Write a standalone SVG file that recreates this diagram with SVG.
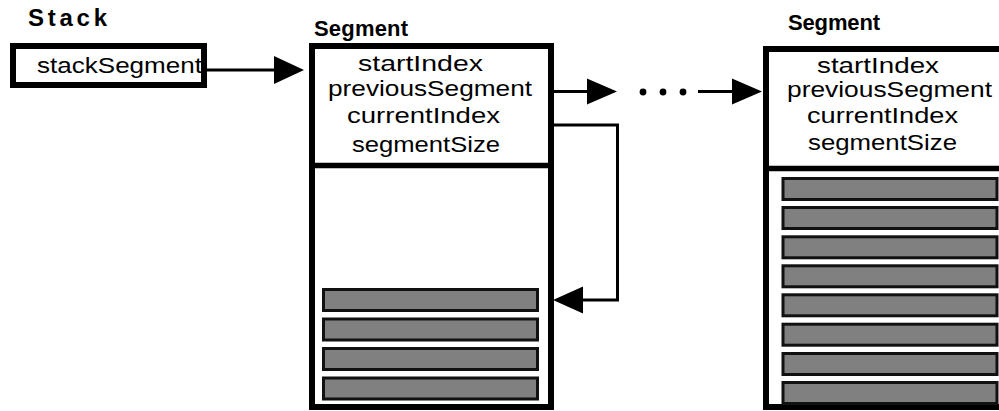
<svg xmlns="http://www.w3.org/2000/svg" width="999" height="411" viewBox="0 0 999 411">
  <style>
    .box { fill: #ffffff; stroke: #000000; stroke-width: 6; }
    .div { stroke: #000000; stroke-width: 5.5; }
    .bar { fill: #808080; stroke: #111111; stroke-width: 3; }
    .title { font-family: "Liberation Sans", Arial, sans-serif; font-weight: bold; font-size: 22px; fill: #000000; }
    .field { font-family: "Liberation Sans", Arial, sans-serif; font-size: 22.5px; fill: #000000; }
    .wire { fill: none; stroke: #000000; stroke-width: 3; }
    .head { fill: #000000; stroke: none; }
  </style>
  <defs>
    <!-- one storage slot of a segment -->
    <rect id="slot" class="bar" width="214" height="21"/>
  </defs>

  <rect width="999" height="411" fill="#ffffff"/>

  <!-- Stack object -->
  <g id="stack">
    <text class="title" x="28" y="26" style="font-size:24px" textLength="79" lengthAdjust="spacing">Stack</text>
    <rect class="box" x="13" y="46" width="191" height="39"/>
    <text class="field" x="37" y="73" textLength="165" lengthAdjust="spacingAndGlyphs">stackSegment</text>
  </g>

  <!-- First segment: header fields, then mostly empty storage -->
  <g id="segment1">
    <text class="title" x="314" y="36" textLength="94" lengthAdjust="spacing">Segment</text>
    <rect class="box" x="312" y="46" width="239" height="361"/>
    <line class="div" x1="309" y1="165.5" x2="554" y2="165.5"/>
    <text class="field" x="358" y="71" textLength="125" lengthAdjust="spacingAndGlyphs">startIndex</text>
    <text class="field" x="328" y="96" textLength="204" lengthAdjust="spacingAndGlyphs">previousSegment</text>
    <text class="field" x="347" y="123" textLength="153" lengthAdjust="spacingAndGlyphs">currentIndex</text>
    <text class="field" x="352" y="152" textLength="148" lengthAdjust="spacingAndGlyphs">segmentSize</text>
    <use href="#slot" x="323.5" y="289.5"/>
    <use href="#slot" x="323.5" y="319"/>
    <use href="#slot" x="323.5" y="348.5"/>
    <use href="#slot" x="323.5" y="378"/>
  </g>

  <!-- Last segment: header fields, storage full -->
  <g id="segment2">
    <text class="title" x="788" y="30" textLength="92" lengthAdjust="spacing">Segment</text>
    <rect class="box" x="766" y="49" width="260" height="358"/>
    <line class="div" x1="763" y1="168.5" x2="999" y2="168.5"/>
    <text class="field" x="817" y="73" textLength="122" lengthAdjust="spacingAndGlyphs">startIndex</text>
    <text class="field" x="787" y="97" textLength="205" lengthAdjust="spacingAndGlyphs">previousSegment</text>
    <text class="field" x="807" y="123" textLength="151" lengthAdjust="spacingAndGlyphs">currentIndex</text>
    <text class="field" x="808" y="150" textLength="149" lengthAdjust="spacingAndGlyphs">segmentSize</text>
    <use href="#slot" x="783" y="178.5"/>
    <use href="#slot" x="783" y="207.5"/>
    <use href="#slot" x="783" y="236.8"/>
    <use href="#slot" x="783" y="265.8"/>
    <use href="#slot" x="783" y="294.8"/>
    <use href="#slot" x="783" y="324.2"/>
    <use href="#slot" x="783" y="353.5"/>
    <use href="#slot" x="783" y="382.5"/>
  </g>

  <!-- Connectors -->
  <g id="connectors">
    <!-- stackSegment -> first segment -->
    <line class="wire" x1="207" y1="70" x2="276" y2="70"/>
    <polygon class="head" points="274,56 304,70 274,84"/>
    <!-- previousSegment link -->
    <line class="wire" x1="554" y1="91.5" x2="589" y2="91.5"/>
    <polygon class="head" points="587,78.5 617,91.5 587,104.5"/>
    <circle class="head" cx="643" cy="92" r="3.4"/>
    <circle class="head" cx="663" cy="92" r="3.4"/>
    <circle class="head" cx="683" cy="92" r="3.4"/>
    <line class="wire" x1="698" y1="91.5" x2="734" y2="91.5"/>
    <polygon class="head" points="732,78.5 762,91.5 732,104.5"/>
    <!-- currentIndex -> current slot -->
    <path class="wire" d="M554,125 H617.5 V300 H581"/>
    <polygon class="head" points="583,286.5 553,300 583,313.5"/>
  </g>
</svg>
